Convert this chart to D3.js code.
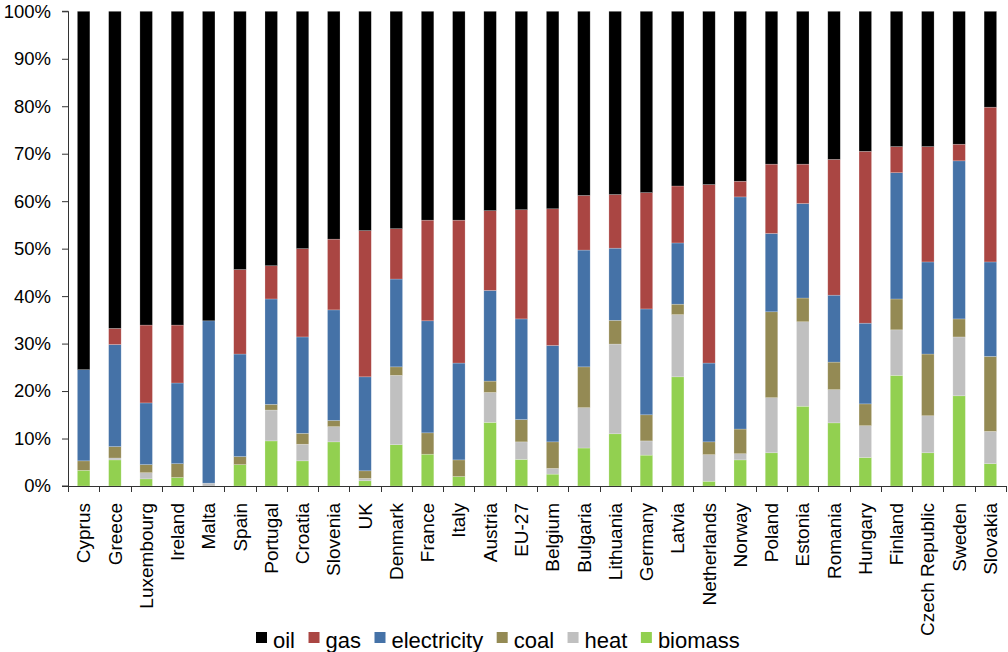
<!DOCTYPE html>
<html>
<head>
<meta charset="utf-8">
<script src="https://cdn.jsdelivr.net/npm/d3@7/dist/d3.min.js"></script>
<style>
  html, body { margin: 0; padding: 0; background: #fff; }
  svg { display: block; font-family: "Liberation Sans", Arial, sans-serif; }
</style>
</head>
<body>
<svg id="chart" width="1008" height="652"></svg>
<script>
// Shares of final energy use by carrier (%)
const countries = ["Cyprus", "Greece", "Luxembourg", "Ireland", "Malta", "Spain", "Portugal", "Croatia",
  "Slovenia", "UK", "Denmark", "France", "Italy", "Austria", "EU-27", "Belgium", "Bulgaria", "Lithuania",
  "Germany", "Latvia", "Netherlands", "Norway", "Poland", "Estonia", "Romania", "Hungary", "Finland",
  "Czech Republic", "Sweden", "Slovakia"];

const biomass     = [3.3, 5.5, 1.5, 1.8, 0.0, 4.5, 9.5, 5.3, 9.3, 1.1, 8.7, 6.7, 2.0, 13.4, 5.6, 2.5, 8.0, 11.0, 6.5, 23.0, 1.0, 5.5, 7.0, 16.8, 13.3, 6.0, 23.3, 7.0, 19.0, 4.7];
const heat        = [0.0, 0.4, 1.3, 0.0, 0.6, 0.0, 6.5, 3.5, 3.2, 0.5, 14.6, 0.0, 0.0, 6.3, 3.7, 1.2, 8.5, 18.9, 3.0, 13.1, 5.6, 1.3, 11.6, 17.8, 7.0, 6.7, 9.6, 7.8, 12.4, 6.8];
const coal        = [2.0, 2.4, 1.7, 2.9, 0.0, 1.7, 1.2, 2.3, 1.3, 1.6, 1.8, 4.5, 3.5, 2.4, 4.7, 5.6, 8.6, 5.0, 5.5, 2.2, 2.7, 5.2, 18.1, 5.0, 5.8, 4.6, 6.5, 13.0, 3.8, 15.8];
const electricity = [19.2, 21.5, 13.0, 17.0, 34.2, 21.6, 22.2, 20.3, 23.3, 19.8, 18.5, 23.6, 20.4, 19.1, 21.2, 20.3, 24.6, 15.2, 22.3, 12.9, 16.6, 48.9, 16.5, 19.9, 14.1, 17.0, 26.6, 19.4, 33.3, 19.9];
const gas         = [0.0, 3.4, 16.4, 12.2, 0.0, 17.8, 7.0, 18.6, 14.9, 30.8, 10.6, 21.2, 30.1, 16.8, 23.0, 28.8, 11.5, 11.3, 24.5, 12.0, 37.6, 3.3, 14.6, 8.3, 28.6, 36.2, 5.5, 24.3, 3.5, 32.6];
const oil         = [75.5, 66.8, 66.1, 66.1, 65.2, 54.4, 53.6, 50.0, 48.0, 46.2, 45.8, 44.0, 44.0, 42.0, 41.8, 41.6, 38.8, 38.6, 38.2, 36.8, 36.5, 35.8, 32.2, 32.2, 31.2, 29.5, 28.5, 28.5, 28.0, 20.2];

const yTicks = [0, 0.1, 0.2, 0.3, 0.4, 0.5, 0.6, 0.7, 0.8, 0.9, 1.0];

// Series, bottom of the stack first
const seriesNames = ["biomass", "heat", "coal", "electricity", "gas", "oil"];
const seriesValues = { biomass, heat, coal, electricity, gas, oil };
const seriesColors = {
  biomass: "#92D050",
  heat: "#C0C0C0",
  coal: "#948A54",
  electricity: "#4572A7",
  gas: "#AA4643",
  oil: "#000000"
};
const legendOrder = ["oil", "gas", "electricity", "coal", "heat", "biomass"];

const rows = countries.map((c, i) => {
  const r = { country: c };
  seriesNames.forEach(s => { r[s] = seriesValues[s][i]; });
  return r;
});

const svg = d3.select("#chart");
const margin = { left: 68, right: 2, top: 11.3, bottom: 166 };
const W = 1008, H = 652;
const plotRight = W - margin.right;
const plotBottom = H - margin.bottom;

const x = d3.scaleBand().domain(countries).range([margin.left, 1006]).padding(0);
const y = d3.scaleLinear().domain([0, 1]).range([plotBottom, margin.top]);

const stack = d3.stack().keys(seriesNames).offset(d3.stackOffsetExpand);
const layers = stack(rows);

const barW = x.bandwidth() * 0.4;

svg.append("g")
  .selectAll("g")
  .data(layers)
  .join("g")
  .attr("fill", d => seriesColors[d.key])
  .selectAll("rect")
  .data(d => d)
  .join("rect")
  .attr("x", d => x(d.data.country) + x.bandwidth() / 2 - barW / 2)
  .attr("width", barW)
  .attr("y", d => y(d[1]))
  .attr("height", d => Math.max(0, y(d[0]) - y(d[1])))
  .attr("stroke", "rgba(255,255,255,0.35)")
  .attr("stroke-width", 0.6);

// Y axis
const yAxis = d3.axisLeft(y)
  .tickValues(yTicks)
  .tickFormat(d3.format(".0%"))
  .tickSize(6)
  .tickPadding(11);

const gy = svg.append("g")
  .attr("transform", `translate(${margin.left},0)`)
  .call(yAxis);
gy.select(".domain").attr("stroke", "#333").attr("d", `M-6,${y(1)}H0.5V${y(0)}H-6`);
gy.selectAll(".tick line").attr("stroke", "#333");
gy.selectAll(".tick text")
  .attr("fill", "#000")
  .style("font-size", "18.5px")
  .style("font-family", "'Liberation Sans', Arial, sans-serif");

// X axis
const xAxis = d3.axisBottom(x).tickSize(0).tickFormat("");
const gx = svg.append("g")
  .attr("transform", `translate(0,${plotBottom})`)
  .call(xAxis);
gx.select(".domain").attr("stroke", "#333").attr("d", `M${margin.left},0.5H1006.5`);
gx.selectAll(".tick").remove();

// Category separator ticks on the x axis
const edges = countries.map(c => x(c)).concat([x(countries[countries.length - 1]) + x.bandwidth()]);
gx.append("g")
  .selectAll("line")
  .data(edges)
  .join("line")
  .attr("x1", d => Math.round(d) + 0.5)
  .attr("x2", d => Math.round(d) + 0.5)
  .attr("y1", 0)
  .attr("y2", 6)
  .attr("stroke", "#333");

// Rotated country labels
svg.append("g")
  .selectAll("text")
  .data(countries)
  .join("text")
  .attr("transform", d => `translate(${x(d) + x.bandwidth() / 2},503) rotate(-90)`)
  .attr("text-anchor", "end")
  .attr("dy", "0.35em")
  .style("font-size", "19px")
  .attr("fill", "#000")
  .text(d => d);

// Legend
const legend = svg.append("g").attr("transform", "translate(256,0)");
let lx = 0;
legendOrder.forEach(key => {
  legend.append("rect")
    .attr("x", lx)
    .attr("y", 632)
    .attr("width", 11)
    .attr("height", 11)
    .attr("fill", seriesColors[key]);
  const t = legend.append("text")
    .attr("x", lx + 17)
    .attr("y", 648)
    .style("font-size", "22px")
    .attr("fill", "#000")
    .text(key);
  lx += 17 + t.node().getComputedTextLength() + 13.5;
});
</script>
</body>
</html>
